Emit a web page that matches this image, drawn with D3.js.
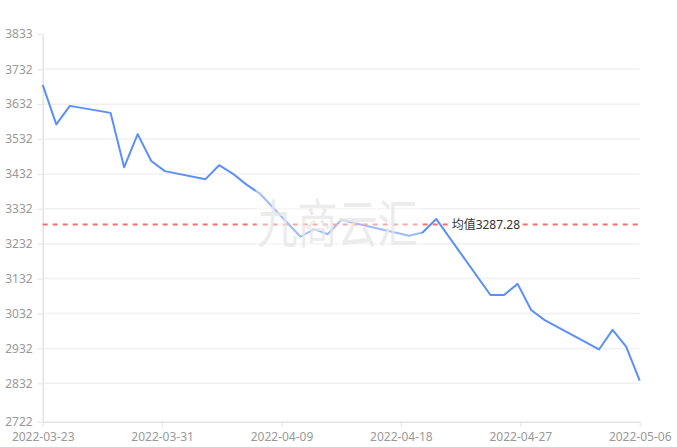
<!DOCTYPE html>
<html>
<head>
<meta charset="utf-8">
<script src="https://cdn.jsdelivr.net/npm/d3@7"></script>
<style>
  html, body { margin: 0; padding: 0; background: #fff; }
  svg { display: block; font-family: "Noto Sans", "Noto Sans CJK SC", sans-serif; }
</style>
</head>
<body>
<svg id="chart" width="677" height="447"></svg>
<script>
// trading days and prices
var dates = ["2022-03-23","2022-03-24","2022-03-25","2022-03-28","2022-03-29","2022-03-30","2022-03-31",
  "2022-04-01","2022-04-04","2022-04-05","2022-04-06","2022-04-07","2022-04-08","2022-04-11",
  "2022-04-12","2022-04-13","2022-04-14","2022-04-19","2022-04-20","2022-04-21","2022-04-25",
  "2022-04-26","2022-04-27","2022-04-28","2022-04-29","2022-05-03","2022-05-04","2022-05-05","2022-05-06"];
var prices = [3687, 3574, 3627, 3607, 3451, 3546, 3469,
  3440, 3417, 3457, 3433, 3402, 3376, 3252,
  3274, 3259, 3300, 3255, 3264, 3303, 3085,
  3085, 3117, 3042, 3013, 2929, 2985, 2937, 2840];
var yTicks = [2722, 2832, 2932, 3032, 3132, 3232, 3332, 3432, 3532, 3632, 3732, 3833];
var xRange = ["2022-03-23", "2022-05-06"];
var avgValue = 3287.28;
var avgLabel = "均值";
var watermark = "九商云汇";

var width = 677, height = 447;
var margin = {top: 34, right: 37.3, bottom: 25.3, left: 42.7};
var innerW = width - margin.left - margin.right;
var innerH = height - margin.top - margin.bottom;

var parse = d3.utcParse("%Y-%m-%d");
var data = dates.map(function (d, i) { return {date: parse(d), value: prices[i]}; });

var svg = d3.select("#chart");
var g = svg.append("g")
  .attr("transform", "translate(" + margin.left + "," + margin.top + ")");

var x = d3.scaleUtc()
  .domain(xRange.map(parse))
  .range([0, innerW]);
var y = d3.scaleLinear()
  .domain([yTicks[0], yTicks[yTicks.length - 1]])
  .range([innerH, 0]);

// five equal steps along the time axis, labelled by day
var t0 = x.domain()[0].getTime(), t1 = x.domain()[1].getTime();
var xTicks = d3.range(6).map(function (i) { return new Date(t0 + i * (t1 - t0) / 5); });

// grid
g.append("g").attr("class", "grid")
  .selectAll("line")
  .data(yTicks.slice(1, -1))
  .enter().append("line")
  .attr("x1", 0).attr("x2", innerW)
  .attr("y1", function (d) { return y(d); })
  .attr("y2", function (d) { return y(d); })
  .style("stroke", "#f0f0f0")
  .style("stroke-width", 1.5);

var yAxis = g.append("g")
  .call(d3.axisLeft(y).tickValues(yTicks).tickSizeInner(5).tickSizeOuter(0).tickPadding(5).tickFormat(d3.format("d")));
var xAxis = g.append("g")
  .attr("transform", "translate(0," + innerH + ")")
  .call(d3.axisBottom(x).tickValues(xTicks).tickSizeInner(5).tickSizeOuter(0).tickPadding(6)
    .tickFormat(d3.utcFormat("%Y-%m-%d")));

[yAxis, xAxis].forEach(function (ax) {
  ax.select(".domain").style("stroke", "#e3e3e3").style("stroke-width", 1.5);
  ax.selectAll(".tick line").style("stroke", "#e3e3e3");
  ax.selectAll(".tick text").style("fill", "#999").style("font-size", "12px")
    .style("font-family", "'Noto Sans', sans-serif");
});

// price line
var line = d3.line()
  .x(function (d) { return x(d.date); })
  .y(function (d) { return y(d.value); });
g.append("path")
  .datum(data)
  .attr("d", line)
  .style("fill", "none")
  .style("stroke", "#5b8ff9")
  .style("stroke-width", 2)
  .style("stroke-linejoin", "round");

// average line
g.append("line")
  .attr("x1", 0).attr("x2", innerW)
  .attr("y1", y(avgValue)).attr("y2", y(avgValue))
  .style("stroke", "#f27171")
  .style("stroke-width", 2)
  .style("stroke-dasharray", "5,5");

var lbl = g.append("g").attr("transform", "translate(" + (innerW * 0.685) + "," + y(avgValue) + ")");
var lblText = lbl.append("text")
  .attr("dy", "0.35em")
  .style("font-size", "12px")
  .style("fill", "#333")
  .text(avgLabel + avgValue.toFixed(2));
var bb = lblText.node().getBBox();
lbl.insert("rect", "text")
  .attr("x", bb.x - 1).attr("y", bb.y)
  .attr("width", bb.width + 2).attr("height", bb.height)
  .style("fill", "#fff");

// watermark
var wm = svg.append("g").attr("transform", "translate(" + (margin.left + innerW * 0.36) + "," + (margin.top + innerH * 0.41) + ")");
wm.append("rect")
  .attr("x", -2).attr("y", -6)
  .attr("width", 166).attr("height", 66)
  .style("fill", "#fff").style("opacity", 0.4);
wm.append("text")
  .attr("transform", "translate(0,50) scale(1,1.3)")
  .style("font-family", "'Noto Sans CJK SC', sans-serif")
  .style("font-size", "40px")
  .style("fill", "#e6e6e6")
  .style("opacity", 0.75)
  .text(watermark);
</script>
</body>
</html>
